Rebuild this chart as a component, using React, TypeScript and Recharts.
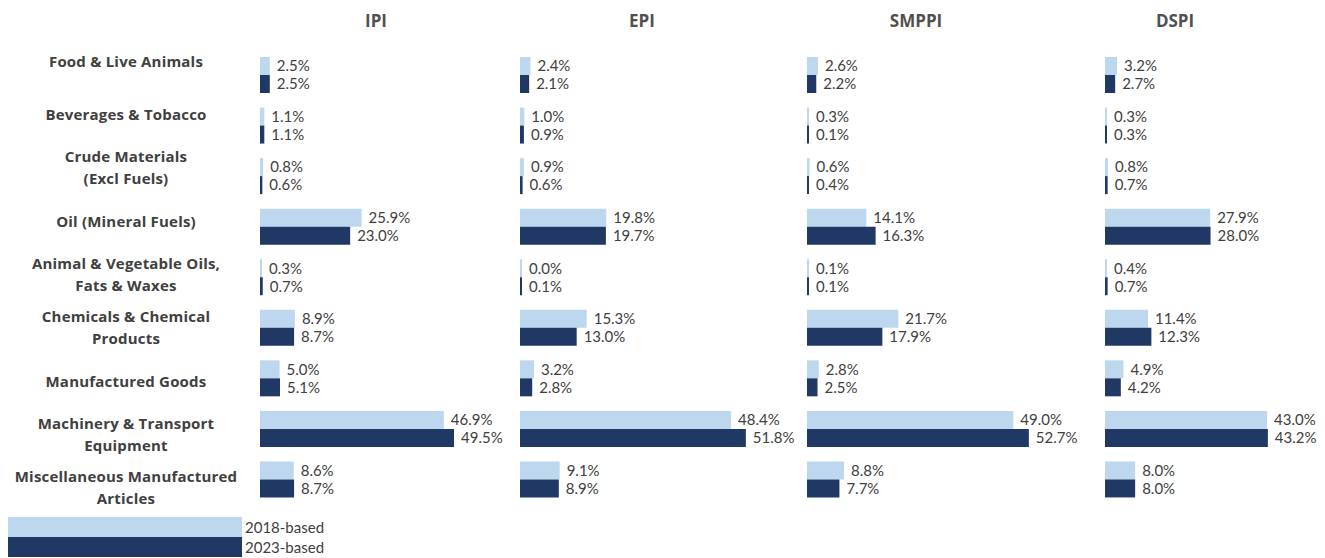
import { Bar, BarChart, LabelList, XAxis, YAxis } from "recharts";

const categories = [
  "Food & Live Animals",
  "Beverages & Tobacco",
  "Crude Materials (Excl Fuels)",
  "Oil (Mineral Fuels)",
  "Animal & Vegetable Oils, Fats & Waxes",
  "Chemicals & Chemical Products",
  "Manufactured Goods",
  "Machinery & Transport Equipment",
  "Miscellaneous Manufactured Articles",
];

const categoryLines = [
  ["Food & Live Animals"],
  ["Beverages & Tobacco"],
  ["Crude Materials", "(Excl Fuels)"],
  ["Oil (Mineral Fuels)"],
  ["Animal & Vegetable Oils,", "Fats & Waxes"],
  ["Chemicals & Chemical", "Products"],
  ["Manufactured Goods"],
  ["Machinery & Transport", "Equipment"],
  ["Miscellaneous Manufactured", "Articles"],
];

const ipi2018 = [2.5, 1.1, 0.8, 25.9, 0.3, 8.9, 5.0, 46.9, 8.6];
const ipi2023 = [2.5, 1.1, 0.6, 23.0, 0.7, 8.7, 5.1, 49.5, 8.7];
const epi2018 = [2.4, 1.0, 0.9, 19.8, 0.0, 15.3, 3.2, 48.4, 9.1];
const epi2023 = [2.1, 0.9, 0.6, 19.7, 0.1, 13.0, 2.8, 51.8, 8.9];
const smppi2018 = [2.6, 0.3, 0.6, 14.1, 0.1, 21.7, 2.8, 49.0, 8.8];
const smppi2023 = [2.2, 0.1, 0.4, 16.3, 0.1, 17.9, 2.5, 52.7, 7.7];
const dspi2018 = [3.2, 0.3, 0.8, 27.9, 0.4, 11.4, 4.9, 43.0, 8.0];
const dspi2023 = [2.7, 0.3, 0.7, 28.0, 0.7, 12.3, 4.2, 43.2, 8.0];

const seriesNames = ["2018-based", "2023-based"];

const LIGHT = "#bdd7ee";
const DARK = "#1f3864";
const TEXT = "#404040";
const FONT = "Lato, 'Open Sans', sans-serif";
const BOLD_FONT = "'Open Sans', Lato, sans-serif";

const panels = [
  { title: "IPI", a: ipi2018, b: ipi2023, left: 260, scale: 3.92, titleX: 376 },
  { title: "EPI", a: epi2018, b: epi2023, left: 520, scale: 4.36, titleX: 642 },
  { title: "SMPPI", a: smppi2018, b: smppi2023, left: 807, scale: 4.21, titleX: 916 },
  { title: "DSPI", a: dspi2018, b: dspi2023, left: 1105, scale: 3.77, titleX: 1175 },
];

const labelData = categories.map((name) => ({ name }));

const pct = (v: unknown) => `${Number(v).toFixed(1)}%`;

const CategoryTick = (props: any) => {
  const { y, index } = props;
  const lines = categoryLines[index] ?? [];
  const start = y - ((lines.length - 1) * 22) / 2;
  return (
    <text
      x={126}
      y={start}
      textAnchor="middle"
      dominantBaseline="central"
      fill={TEXT}
      fontSize={15}
      fontWeight={700}
      letterSpacing={0.2}
      fontFamily={BOLD_FONT}
    >
      {lines.map((line: string, k: number) => (
        <tspan key={k} x={126} dy={k === 0 ? 0 : 22}>
          {line}
        </tspan>
      ))}
    </text>
  );
};

function Panel({ p }: { p: (typeof panels)[number] }) {
  const data = categories.map((name, i) => ({ name, a: p.a[i], b: p.b[i] }));
  const plotWidth = 60 * p.scale;
  return (
    <>
      <div
        style={{
          position: "absolute",
          left: p.titleX - 60,
          top: 9,
          width: 120,
          textAlign: "center",
          fontFamily: BOLD_FONT,
          fontWeight: 700,
          fontSize: 17,
          color: "#505050",
        }}
      >
        {p.title}
      </div>
      <div style={{ position: "absolute", left: p.left, top: 0 }}>
        <BarChart
          width={plotWidth + 60}
          height={558}
          data={data}
          layout="vertical"
          margin={{ top: 50, right: 60, bottom: 53, left: 0 }}
          barGap={0}
        >
          <XAxis type="number" domain={[0, 60]} hide />
          <YAxis type="category" dataKey="name" hide />
          <Bar dataKey="a" name={seriesNames[0]} fill={LIGHT} barSize={18} minPointSize={2} isAnimationActive={false}>
            <LabelList dataKey="a" position="right" offset={7} formatter={pct} fill={TEXT} fontSize={15} fontFamily={FONT} />
          </Bar>
          <Bar dataKey="b" name={seriesNames[1]} fill={DARK} barSize={18} minPointSize={2} isAnimationActive={false}>
            <LabelList dataKey="b" position="right" offset={7} formatter={pct} fill={TEXT} fontSize={15} fontFamily={FONT} />
          </Bar>
        </BarChart>
      </div>
    </>
  );
}

export default function App() {
  return (
    <div
      style={{
        position: "absolute",
        left: 0,
        top: 0,
        width: 1325,
        height: 558,
        overflow: "hidden",
        background: "#fff",
        fontFamily: FONT,
      }}
    >
      <div style={{ position: "absolute", left: 0, top: 0 }}>
        <BarChart
          width={260}
          height={558}
          data={labelData}
          layout="vertical"
          margin={{ top: 34, right: 0, bottom: 44, left: 0 }}
        >
          <XAxis type="number" hide domain={[0, 1]} />
          <YAxis
            type="category"
            dataKey="name"
            width={260}
            axisLine={false}
            tickLine={false}
            interval={0}
            tick={<CategoryTick />}
          />
        </BarChart>
      </div>
      {panels.map((p) => (
        <Panel key={p.title} p={p} />
      ))}
      {seriesNames.map((s, i) => (
        <div key={s} style={{ position: "absolute", left: 8, top: 517 + i * 20, height: 20, display: "flex", alignItems: "center" }}>
          <div style={{ width: 234, height: 20, background: i === 0 ? LIGHT : DARK }} />
          <span style={{ marginLeft: 3, fontSize: 15, color: TEXT, fontFamily: FONT }}>{s}</span>
        </div>
      ))}
    </div>
  );
}
